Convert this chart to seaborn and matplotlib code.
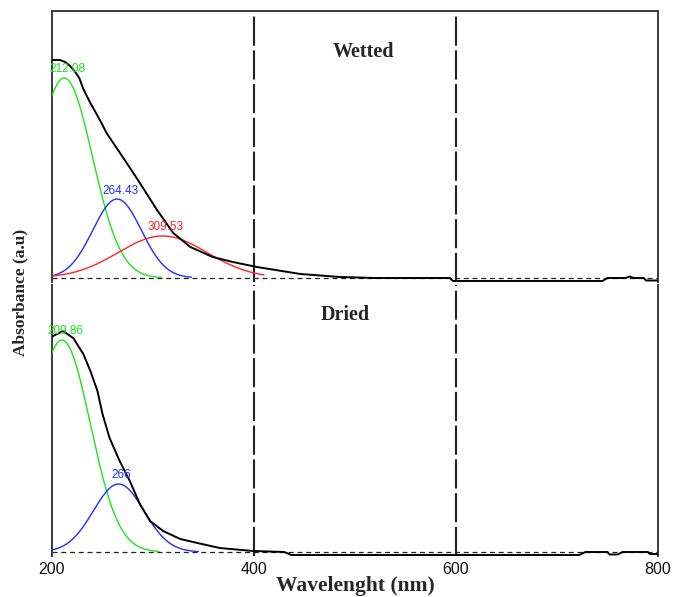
import numpy as np
import pandas as pd
import matplotlib
matplotlib.use("Agg")
import matplotlib.pyplot as plt
import seaborn as sns

# ---- measured spectra (wavelength in nm, absorbance in a.u.) ----
wet_wl = [200, 201, 208, 213, 218, 223, 227, 231, 238, 243, 249, 254, 264, 274,
          287, 304, 320, 337, 359, 379, 403, 446, 485, 520, 594, 597, 745, 750,
          768, 772, 776, 786, 788, 800]
wet_abs = [0.872, 0.872, 0.872, 0.864, 0.848, 0.824, 0.8, 0.756, 0.7, 0.664,
           0.62, 0.58, 0.52, 0.46, 0.38, 0.272, 0.18, 0.124, 0.084, 0.064, 0.044,
           0.016, 0.004, 0.0, 0.0, -0.012, -0.012, 0.0, 0.0, 0.006, 0.0, 0.0,
           -0.01, -0.01]

dry_wl = [200, 201, 211, 221, 231, 238, 245, 250, 257, 267, 277, 287, 297, 310,
          327, 344, 366, 399, 430, 437, 722, 728, 750, 752, 760, 765, 790, 792, 800]
dry_abs = [0.86, 0.864, 0.884, 0.856, 0.792, 0.724, 0.644, 0.552, 0.456, 0.364,
           0.284, 0.192, 0.124, 0.084, 0.052, 0.036, 0.016, 0.004, 0.0, -0.012,
           -0.012, 0.0, 0.0, -0.01, -0.01, 0.0, 0.0, -0.008, -0.008]

# ---- fitted Gaussian components: centre, height, width, drawn range ----
wet_centres = [212.08, 264.43, 309.53]
wet_heights = [0.80, 0.316, 0.168]
wet_sigmas = [28, 24, 44]
wet_ends = [308, 338, 410]

dry_centres = [209.86, 266.0]
dry_heights = [0.848, 0.272]
dry_sigmas = [28, 25]
dry_ends = [306, 345]

peak_colors = ["#19e619", "#1f2dff", "#ff2424"]
peak_labels_wet = ["212.08", "264.43", "309.53"]
peak_labels_dry = ["209.86", "266"]

x_ticks = [200, 400, 600, 800]

sns.set_theme(style="white")
plt.rcParams["font.family"] = ["Liberation Sans", "DejaVu Sans"]

fig = plt.figure(figsize=(6.74, 5.97), dpi=100)
W, H = 674, 597
left = 52 / W
width = (658 - 52) / W
ax_top = fig.add_axes([left, 1 - 282 / H, width, 271 / H])
ax_bot = fig.add_axes([left, 1 - 556 / H, width, 271 / H])

YLIM = (-0.016, 1.068)


def gaussian_frame(c, h, s, end):
    x = np.linspace(200, end, 300)
    return pd.DataFrame({"wl": x, "a": h * np.exp(-((x - c) ** 2) / (2 * s ** 2))})


def draw_panel(ax, wl, ab, centres, heights, sigmas, ends, labels, title, title_xy):
    ax.set_xlim(200, 800)
    ax.set_ylim(*YLIM)
    # grid lines at 400 and 600
    for xv in x_ticks[1:3]:
        ax.axvline(xv, color="#222222", lw=1.5, ls=(0, (14, 2.2)), zorder=1)
    # zero baseline
    ax.axhline(0, color="#222222", lw=0.9, ls=(0, (4, 3)), zorder=1)
    for c, h, s, e, col, lab in zip(centres, heights, sigmas, ends, peak_colors, labels):
        df = gaussian_frame(c, h, s, e)
        sns.lineplot(data=df, x="wl", y="a", ax=ax, color=col, lw=1.0, zorder=3)
        ax.text(c + 3, h + 0.01, lab, color=col, fontsize=8.5, ha="center",
                va="bottom", family=["Liberation Sans"], zorder=5)
    spec = pd.DataFrame({"wl": wl, "a": ab})
    sns.lineplot(data=spec, x="wl", y="a", ax=ax, color="black", lw=1.4,
                 zorder=4, sort=False)
    ax.text(title_xy[0], title_xy[1], title, ha="center", va="center",
            fontsize=14.5, fontweight="bold", family=["Liberation Serif"])
    ax.set_xlabel("")
    ax.set_ylabel("")
    ax.set_yticks([])
    ax.set_xticks(x_ticks)
    for sp in ax.spines.values():
        sp.set_color("#3a3a3a")
        sp.set_linewidth(1.4)
    ax.spines["bottom"].set_visible(False)


draw_panel(ax_top, wet_wl, wet_abs, wet_centres, wet_heights, wet_sigmas,
           wet_ends, peak_labels_wet, "Wetted", (508, 0.904))
draw_panel(ax_bot, dry_wl, dry_abs, dry_centres, dry_heights, dry_sigmas,
           dry_ends, peak_labels_dry, "Dried", (490, 0.948))

ax_top.tick_params(axis="x", labelbottom=False, length=0)
ax_bot.spines["top"].set_visible(False)
ax_bot.tick_params(axis="x", length=0, pad=4, labelsize=11.5, labelcolor="#111111")

fig.text(355 / W, 1 - 586 / H, "Wavelenght (nm)", ha="center", va="center",
         fontsize=15.5, fontweight="bold", family=["Liberation Serif"])
fig.text(20 / W, 1 - 292 / H, "Absorbance (a.u)", ha="center", va="center",
         rotation=90, fontsize=12.5, fontweight="bold", family=["Liberation Serif"])

fig.savefig("out.png", dpi=100)
